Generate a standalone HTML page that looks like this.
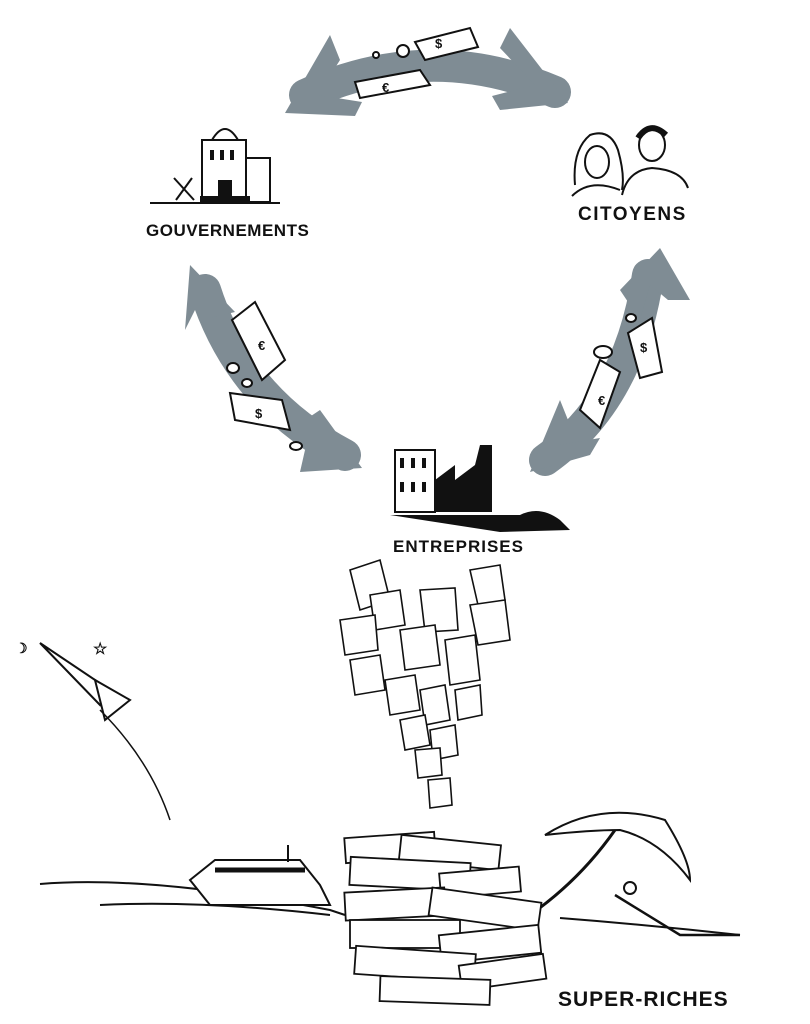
<!DOCTYPE html>
<html><head><style>
html,body{margin:0;padding:0;background:#fff;}
svg{display:block}
text{font-family:"Liberation Sans",sans-serif;font-weight:bold;fill:#111;}
</style></head><body>
<svg width="810" height="1024" viewBox="0 0 810 1024" xmlns="http://www.w3.org/2000/svg">
<g fill="none" stroke="#7f8c94" stroke-linecap="round" stroke-linejoin="round">
  <path d="M305 95 Q430 38 555 92" stroke-width="32"/>
  <path d="M205 290 Q240 400 345 455" stroke-width="32"/>
  <path d="M648 275 Q630 400 545 460" stroke-width="32"/>
</g>
<g fill="#7f8c94">
  <polygon points="285,113 330,35 340,60 318,95 362,102 355,116"/>
  <polygon points="568,103 510,28 500,48 535,85 492,96 500,110"/>
  <polygon points="190,265 235,312 210,318 200,300 185,330"/>
  <polygon points="362,468 300,472 305,450 330,452 305,420 320,410"/>
  <polygon points="660,248 690,300 668,300 650,285 640,320 620,290"/>
  <polygon points="530,472 560,400 568,420 558,445 600,438 590,455"/>
</g>
<g fill="#fff" stroke="#111" stroke-width="2">
  <polygon points="415,42 470,28 478,47 425,60"/>
  <polygon points="355,82 420,70 430,85 360,98"/>
  <circle cx="403" cy="51" r="6"/><circle cx="376" cy="55" r="3"/>
  <polygon points="232,320 255,302 285,360 262,380"/>
  <polygon points="230,393 282,400 290,430 235,420"/>
  <ellipse cx="233" cy="368" rx="6" ry="5"/><ellipse cx="247" cy="383" rx="5" ry="4"/><ellipse cx="296" cy="446" rx="6" ry="4"/>
  <polygon points="628,333 652,318 662,372 640,378"/>
  <polygon points="580,410 600,360 620,372 600,428"/>
  <ellipse cx="603" cy="352" rx="9" ry="6"/><ellipse cx="631" cy="318" rx="5" ry="4"/>
</g>
<g font-family="Liberation Sans" font-size="13" fill="#111">
  <text x="435" y="48">$</text><text x="382" y="92">€</text>
  <text x="258" y="350">€</text><text x="255" y="418">$</text>
  <text x="640" y="352">$</text><text x="598" y="405">€</text>
</g>
<g stroke="#111" stroke-width="2" fill="#fff">
  <path d="M212 140 Q225 118 238 140 Z" />
  <rect x="202" y="140" width="44" height="62"/>
  <rect x="246" y="158" width="24" height="44"/>
  <line x1="174" y1="178" x2="194" y2="200"/><line x1="192" y1="178" x2="176" y2="200"/>
  <line x1="150" y1="203" x2="280" y2="203"/>
</g>
<g fill="#111"><rect x="210" y="150" width="4" height="10"/><rect x="220" y="150" width="4" height="10"/><rect x="230" y="150" width="4" height="10"/><rect x="218" y="180" width="14" height="22"/><rect x="200" y="196" width="50" height="6"/></g>
<text x="146" y="236" font-size="17" letter-spacing="0.5">GOUVERNEMENTS</text>
<g stroke="#111" stroke-width="2" fill="none">
  <path d="M575 185 Q572 150 590 135 Q610 128 618 150 Q625 175 622 190"/>
  <ellipse cx="597" cy="162" rx="12" ry="16"/>
  <path d="M572 196 Q590 178 620 190"/>
  <ellipse cx="652" cy="145" rx="13" ry="16"/>
  <path d="M638 138 Q650 120 666 135" stroke-width="6"/>
  <path d="M622 195 Q628 170 652 168 Q682 170 688 188"/>
</g>
<text x="578" y="220" font-size="19" letter-spacing="1.5">CITOYENS</text>
<g stroke="#111" stroke-width="2" fill="#fff"><rect x="395" y="450" width="40" height="62"/></g>
<g fill="#111">
  <rect x="400" y="458" width="4" height="10"/><rect x="411" y="458" width="4" height="10"/><rect x="422" y="458" width="4" height="10"/>
  <rect x="400" y="482" width="4" height="10"/><rect x="411" y="482" width="4" height="10"/><rect x="422" y="482" width="4" height="10"/>
  <polygon points="435,512 435,480 455,465 455,480 475,465 480,445 492,445 492,512"/>
  <path d="M390 515 L520 515 Q540 505 560 520 L570 530 L500 532 Z"/>
</g>
<text x="393" y="552" font-size="17" letter-spacing="1">ENTREPRISES</text>
<g fill="#fff" stroke="#111" stroke-width="1.6">
  <polygon points="350,570 380,560 390,600 360,610"/>
  <polygon points="470,570 500,565 505,600 478,605"/>
  <polygon points="370,595 400,590 405,625 375,630"/>
  <polygon points="420,590 455,588 458,630 425,632"/>
  <polygon points="470,605 505,600 510,640 478,645"/>
  <polygon points="340,620 375,615 378,650 345,655"/>
  <polygon points="400,630 435,625 440,665 405,670"/>
  <polygon points="445,640 475,635 480,680 450,685"/>
  <polygon points="350,660 380,655 385,690 355,695"/>
  <polygon points="385,680 415,675 420,710 390,715"/>
  <polygon points="420,690 445,685 450,720 425,725"/>
  <polygon points="455,690 480,685 482,715 458,720"/>
  <polygon points="400,720 425,715 430,745 405,750"/>
  <polygon points="430,730 455,725 458,755 433,760"/>
  <polygon points="415,750 440,748 442,775 418,778"/>
  <polygon points="428,780 450,778 452,805 430,808"/>
</g>
<g stroke="#111" stroke-width="2" fill="#fff">
  <path d="M40 643 L110 690 L100 705 Z"/>
  <path d="M95 680 L130 700 L105 720 Z"/>
  <path d="M100 710 Q150 760 170 820" fill="none" stroke-width="1.5"/>
</g>
<text x="15" y="653" font-size="14" font-weight="normal">☽</text>
<text x="93" y="654" font-size="16" font-weight="normal">☆</text>
<g stroke="#111" stroke-width="2" fill="none">
  <path d="M40 884 Q150 875 330 910 L345 915"/>
  <path d="M100 905 Q200 900 330 915"/>
  <path d="M560 918 Q650 925 740 935"/>
  <path d="M190 880 L215 860 L300 860 L320 885 L330 905 L210 905 Z" fill="#fff"/>
  <path d="M215 870 L305 870" stroke-width="5"/>
  <line x1="288" y1="845" x2="288" y2="862"/>
  <path d="M530 915 Q580 880 615 830" stroke-width="3"/>
  <path d="M545 835 Q600 800 665 820 Q690 860 690 880 Q660 840 620 830 Q590 830 545 835 Z" fill="#fff"/>
  <path d="M615 895 L680 935 L740 935" stroke-width="2.5"/>
  <circle cx="630" cy="888" r="6"/>
</g>
<g fill="#fff" stroke="#111" stroke-width="1.8">
  <rect x="345" y="835" width="90" height="25" transform="rotate(-4 390 847)"/>
  <rect x="400" y="840" width="100" height="25" transform="rotate(6 450 852)"/>
  <rect x="350" y="860" width="120" height="28" transform="rotate(3 410 874)"/>
  <rect x="440" y="870" width="80" height="25" transform="rotate(-5 480 882)"/>
  <rect x="345" y="890" width="100" height="28" transform="rotate(-3 395 904)"/>
  <rect x="430" y="895" width="110" height="28" transform="rotate(8 485 909)"/>
  <rect x="350" y="920" width="110" height="28"/>
  <rect x="440" y="930" width="100" height="28" transform="rotate(-6 490 944)"/>
  <rect x="355" y="950" width="120" height="28" transform="rotate(4 415 964)"/>
  <rect x="460" y="960" width="85" height="25" transform="rotate(-8 500 972)"/>
  <rect x="380" y="978" width="110" height="25" transform="rotate(2 435 990)"/>
</g>
<text x="558" y="1006" font-size="21" letter-spacing="1">SUPER-RICHES</text>
</svg>
</body></html>
